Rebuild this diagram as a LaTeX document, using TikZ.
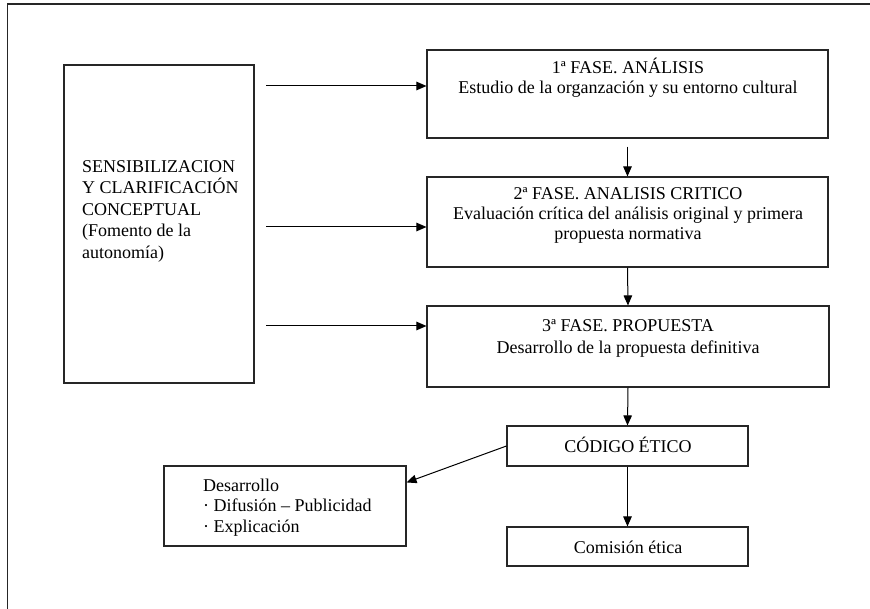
\documentclass[tikz,border=0pt]{standalone}
\usepackage{fontspec}
\setmainfont{Liberation Serif}
\usetikzlibrary{arrows.meta}
\newcommand\tstrut{\rule{0pt}{16pt}}
\begin{document}
\lineskiplimit=-10pt
\begin{tikzpicture}[x=1pt,y=-1pt,
  bx/.style={draw=black!85, line width=1.1pt, inner sep=0pt},
  arr/.style={line width=1pt, -{Triangle[length=10pt,width=8.5pt]}},
  txt/.style={inner sep=0pt, text=black, font=\fontsize{18}{21.5}\selectfont}]
\useasboundingbox (0,0) rectangle (870,609);
\draw[line width=1.6pt, black!85] (870,4) -- (7.5,4) -- (7.5,609);
% boxes
\node[bx, minimum width=190pt, minimum height=318pt] (L) at (159,224) {};
\node[bx, minimum width=401pt, minimum height=88pt] (B1) at (627.5,94) {};
\node[bx, minimum width=401pt, minimum height=90pt] (B2) at (627.5,222) {};
\node[bx, minimum width=402pt, minimum height=81pt] (B3) at (628,346.5) {};
\node[bx, minimum width=241pt, minimum height=40pt] (C) at (627.5,446) {};
\node[bx, minimum width=241pt, minimum height=39pt] (K) at (627.5,546.5) {};
\node[bx, minimum width=242pt, minimum height=80pt] (D) at (285,506) {};
% texts
\node[txt, anchor=north west, align=left] (Lt) at (82,156)
  {\tstrut SENSIBILIZACION\\Y CLARIFICACIÓN\\CONCEPTUAL\\(Fomento de la\\autonomía)};
\node[txt, anchor=north, align=center, font=\fontsize{18}{20}\selectfont] (B1t) at (628,57)
  {\tstrut 1ª FASE. ANÁLISIS\\Estudio de la organzación y su entorno cultural};
\node[txt, anchor=north, align=center, font=\fontsize{18}{20}\selectfont] (B2t) at (628,183)
  {\tstrut 2ª FASE. ANALISIS CRITICO\\Evaluación crítica del análisis original y primera\\propuesta normativa};
\node[txt, anchor=north, align=center, font=\fontsize{18}{22}\selectfont] (B3t) at (628,315)
  {\tstrut 3ª FASE. PROPUESTA\\Desarrollo de la propuesta definitiva};
\node[txt, anchor=base] (Ct) at (628,452) {CÓDIGO ÉTICO};
\node[txt, anchor=base] (Kt) at (628,553) {Comisión ética};
\node[txt, anchor=north west, align=left, font=\fontsize{18}{20.5}\selectfont] (Dt) at (203,475)
  {\tstrut Desarrollo\\· Difusión – Publicidad\\· Explicación};
% connectors
\coordinate (a1) at (266,86);
\coordinate (a2) at (266,227);
\coordinate (a3) at (266,326);
\draw[arr] (a1) -- (a1 -| B1.west);
\draw[arr] (a2) -- (a2 -| B2.west);
\draw[arr] (a3) -- (a3 -| B3.west);
\draw[arr] ([yshift=-8pt]B1.south) -- (B2.north);
\draw[arr] (B2.south) -- (B3.north);
\draw[arr] (B3.south) -- (C.north);
\draw[arr] (C.south) -- (K.north);
\draw[arr] (C.west) -- ([yshift=-17pt]D.north east);
\end{tikzpicture}
\end{document}
